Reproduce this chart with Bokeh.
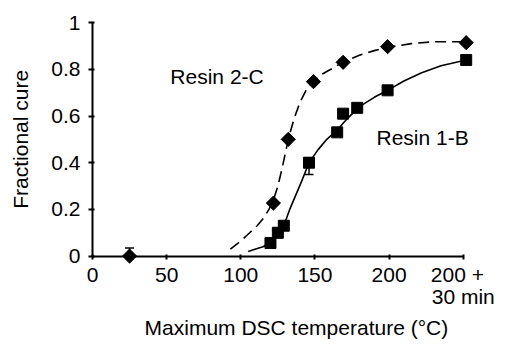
import math
from bokeh.plotting import figure
from bokeh.models import (Range1d, FixedTicker, CustomJSTickFormatter, Label,
                          Whisker, ColumnDataSource, TeeHead)
from bokeh.embed import file_html
from bokeh.resources import INLINE

# ---- data ----
x_ticks = [0, 50, 100, 150, 200, 250]
x_tick_labels = ["0", "50", "100", "150", "200", "  200 +\n30 min"]
y_ticks = [0, 0.2, 0.4, 0.6, 0.8, 1]
y_tick_labels = ["0", "0.2", "0.4", "0.6", "0.8", "1"]

resin2c_x = [25, 122, 132, 149, 169, 199, 252]
resin2c_y = [0.0, 0.227, 0.50, 0.747, 0.83, 0.897, 0.914]

resin1b_x = [120, 125, 129, 146, 165, 169, 178.5, 199, 252]
resin1b_y = [0.056, 0.10, 0.13, 0.40, 0.53, 0.61, 0.635, 0.71, 0.84]

# fitted curves
curve2c_x = [93, 100, 106, 111, 115, 119, 122, 125, 128, 132, 136, 140, 144, 149,
             155, 162, 170, 180, 190, 200, 215, 230, 252]
curve2c_y = [0.03, 0.065, 0.10, 0.13, 0.16, 0.20, 0.24, 0.30, 0.38, 0.50, 0.59, 0.66,
             0.71, 0.75, 0.78, 0.805, 0.835, 0.86, 0.88, 0.895, 0.91, 0.918, 0.918]

curve1b_x = [105, 110, 115, 120, 125, 129, 133, 137, 141, 146, 152, 158, 165, 172,
             180, 190, 199, 210, 222, 235, 252]
curve1b_y = [0.02, 0.03, 0.04, 0.06, 0.09, 0.13, 0.20, 0.26, 0.32, 0.40, 0.455, 0.50,
             0.54, 0.59, 0.64, 0.68, 0.71, 0.75, 0.785, 0.815, 0.84]

err2c_x = [25]
err2c_lo = [0.0]
err2c_hi = [0.035]

err1b_x = [120, 125, 146]
err1b_lo = [0.035, 0.08, 0.35]
err1b_hi = [0.075, 0.12, 0.42]

FONT = "Liberation Sans"
FS = "21px"

p = figure(width=505, height=350, output_backend="svg", toolbar_location=None,
           x_range=Range1d(-62.04, 278.5), y_range=Range1d(-0.4043, 1.0947),
           min_border=0, min_border_left=0, min_border_right=0,
           min_border_top=0, min_border_bottom=0)
p.outline_line_color = None
p.grid.visible = False
p.background_fill_color = "white"
p.border_fill_color = "white"

# axes positioned at data zero
for ax, ticks, labels, bounds in ((p.xaxis[0], x_ticks, x_tick_labels, (0, 250)),
                                  (p.yaxis[0], y_ticks, y_tick_labels, (0, 1))):
    ax.fixed_location = 0
    ax.bounds = bounds
    ax.ticker = FixedTicker(ticks=ticks)
    ax.formatter = CustomJSTickFormatter(
        args=dict(t=ticks, l=labels),
        code="const i = t.findIndex(v => Math.abs(v - tick) < 1e-9); return i >= 0 ? l[i] : '';")
    ax.minor_tick_line_color = None
    ax.axis_line_width = 2
    ax.axis_line_color = "black"
    ax.major_tick_line_width = 2
    ax.major_tick_line_color = "black"
    ax.major_label_text_font = FONT
    ax.major_label_text_font_size = FS
    ax.major_label_text_color = "black"
    ax.major_label_text_line_height = 0.95

p.xaxis.major_tick_in = 2
p.xaxis.major_tick_out = 3
p.xaxis.major_label_standoff = 4
p.yaxis.major_tick_in = 2
p.yaxis.major_tick_out = 4
p.yaxis.major_label_standoff = 8

# curves
p.line(curve2c_x, curve2c_y, line_color="black", line_width=1.6, line_dash="11 6")
p.line(curve1b_x, curve1b_y, line_color="black", line_width=1.6)

# error bars
s2 = ColumnDataSource(dict(x=err2c_x, lo=err2c_lo, hi=err2c_hi))
s1 = ColumnDataSource(dict(x=err1b_x, lo=err1b_lo, hi=err1b_hi))
for s in (s2, s1):
    w = Whisker(base="x", lower="lo", upper="hi", source=s, dimension="height",
                line_color="black", line_width=1.5,
                upper_head=TeeHead(size=9, line_width=1.5, line_color="black"),
                lower_head=TeeHead(size=9, line_width=1.5, line_color="black"))
    p.add_layout(w)

# markers
p.scatter(resin2c_x, resin2c_y, marker="square", angle=math.pi / 4, size=10, color="black")
p.scatter(resin1b_x, resin1b_y, marker="square", size=11, color="black")

# texts
for txt, x, y in (("Resin 2-C", 52.5, 0.77), ("Resin 1-B", 191.5, 0.51)):
    p.add_layout(Label(x=x, y=y, text=txt, text_font=FONT,
                       text_font_size=FS, text_baseline="middle", text_align="left",
                       text_color="black"))

p.add_layout(Label(x=137.5, y=-0.307, text="Maximum DSC temperature (°C)",
                   text_font=FONT, text_font_size=FS, text_baseline="middle",
                   text_align="center", text_color="black"))
p.add_layout(Label(x=-48.5, y=0.5, text="Fractional cure", angle=math.pi / 2,
                   text_font=FONT, text_font_size=FS, text_baseline="middle",
                   text_align="center", text_color="black"))

open("out.html", "w").write(file_html(p, INLINE))
